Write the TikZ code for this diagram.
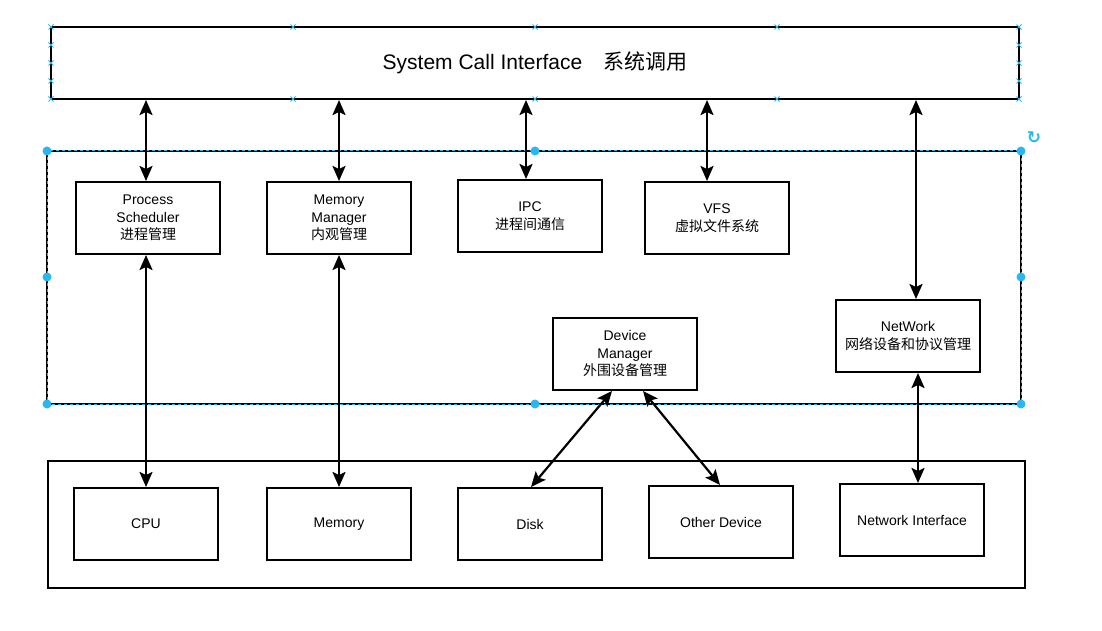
\documentclass[tikz,border=0pt]{standalone}
\usepackage{fontspec}
\setmainfont{Liberation Sans}
\newfontfamily\cjk{Noto Sans CJK SC}
\newfontfamily\dejavu{DejaVu Sans}
\usetikzlibrary{arrows.meta}
\definecolor{handle}{HTML}{29B6F2}
\begin{document}
\begin{tikzpicture}[x=1pt,y=-1pt,
  box/.style={draw,line width=2pt,minimum width=144pt,minimum height=72pt,align=center,
    font=\fontsize{14}{17.5}\selectfont,inner sep=2pt},
  link/.style={line width=2.2pt,{Stealth[length=15pt,width=13pt,inset=3pt]}-{Stealth[length=15pt,width=13pt,inset=3pt]}},
  hdot/.style={fill=handle,draw=none,circle,minimum size=9pt,inner sep=0pt},
  xmark/.style={draw=handle,line width=1pt},
]
\useasboundingbox (0,0) rectangle (1102,631);
% top box
\node[draw,line width=2pt,minimum width=968pt,minimum height=72pt,inner sep=0pt,
  font=\fontsize{21}{25}\selectfont] (sci) at (535,63) {System Call Interface\quad{\cjk 系统调用}};
% middle box
\coordinate (mtl) at (47,151);
\coordinate (mbr) at (1021,404);
\draw[line width=1.5pt] (mtl) rectangle (mbr);
\draw[handle,line width=1pt,dash pattern=on 3pt off 3pt] (mtl) rectangle (mbr);
% bottom box
\coordinate (btl) at (48,461);
\coordinate (bbr) at (1025,588);
\draw[line width=2pt] (btl) rectangle (bbr);
% nodes
\node[box] (ps) at (148,218) {Process\\Scheduler\\{\cjk 进程管理}};
\node[box] (mm) at (339,218) {Memory\\Manager\\{\cjk 内观管理}};
\node[box] (ipc) at (530,216) {IPC\\{\cjk 进程间通信}};
\node[box] (vfs) at (717,218) {VFS\\{\cjk 虚拟文件系统}};
\node[box] (dm) at (625,354) {Device\\Manager\\{\cjk 外围设备管理}};
\node[box] (nw) at (908,336) {NetWork\\{\cjk 网络设备和协议管理}};
\node[box] (cpu) at (146,524) {CPU};
\node[box] (mem) at (339,524) {Memory};
\node[box] (disk) at (530,524) {Disk};
\node[box] (od) at (721,522) {Other Device};
\node[box] (ni) at (912,520) {Network Interface};
% connectors
\draw[link] (sci.south -| 146,0) -- (ps.north -| 146,0);
\draw[link] (sci.south -| mm.north) -- (mm.north);
\draw[link] (sci.south -| 526,0) -- (ipc.north -| 526,0);
\draw[link] (sci.south -| 707,0) -- (vfs.north -| 707,0);
\draw[link] (sci.south -| 916,0) -- (nw.north -| 916,0);
\draw[link] (ps.south -| 146,0) -- (cpu.north -| 146,0);
\draw[link] (mm.south) -- (mem.north);
\draw[link] (dm.south -| 612,0) -- (disk.north -| 531,0);
\draw[link] (dm.south -| 643,0) -- (od.north -| 720,0);
\draw[link] (nw.south -| 918,0) -- (ni.north -| 918,0);
% selection handles
\foreach \p in {(47,151),(535,151),(1021,151),(47,277),(1021,277),(47,404),(535,404),(1021,404)}
  \node[hdot] at \p {};
\node[text=handle,font=\dejavu\bfseries\fontsize{17}{17}\selectfont,inner sep=0pt] (rot) at (1034,138) {↻};
\foreach \x in {51,293,535,777,1019}
  \foreach \y in {27,99}
    \draw[xmark] (\x-2.5,\y-2.5) -- (\x+2.5,\y+2.5) (\x-2.5,\y+2.5) -- (\x+2.5,\y-2.5);
\foreach \x in {51,1019}
  \foreach \y in {45,63,81}
    \draw[xmark] (\x-2.5,\y-2.5) -- (\x+2.5,\y+2.5) (\x-2.5,\y+2.5) -- (\x+2.5,\y-2.5);
\end{tikzpicture}
\end{document}
